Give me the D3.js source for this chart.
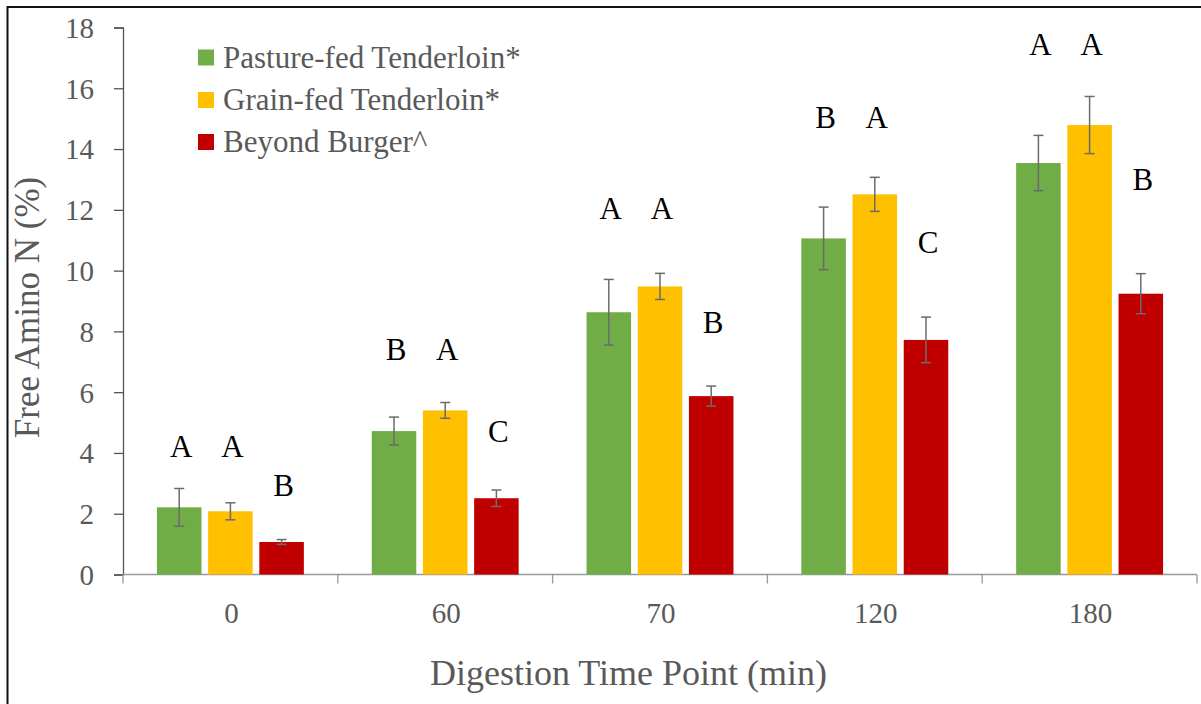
<!DOCTYPE html>
<html>
<head>
<meta charset="utf-8">
<script src="https://cdn.jsdelivr.net/npm/d3@7"></script>
</head>
<body style="margin:0">
<svg id="chart" width="1201" height="704"></svg>
<script>
// ---- data ----
const categories = ["0", "60", "70", "120", "180"];
const seriesNames = ["Pasture-fed Tenderloin*", "Grain-fed Tenderloin*", "Beyond Burger^"];
const pastureValues = [2.21, 4.72, 8.63, 11.06, 13.54];
const grainValues   = [2.08, 5.40, 9.48, 12.51, 14.79];
const beyondValues  = [1.07, 2.51, 5.87, 7.72, 9.24];
const pastureErr = [0.62, 0.46, 1.08, 1.03, 0.91];
const grainErr   = [0.28, 0.26, 0.43, 0.56, 0.94];
const beyondErr  = [0.08, 0.27, 0.33, 0.75, 0.66];
const pastureLetters = ["A", "B", "A", "B", "A"];
const grainLetters   = ["A", "A", "A", "A", "A"];
const beyondLetters  = ["B", "C", "B", "C", "B"];
// letter label heights, in axis units
const pastureLetterY = [4.20, 7.40, 12.03, 15.02, 17.42];
const grainLetterY   = [4.20, 7.40, 12.03, 15.02, 17.42];
const beyondLetterY  = [2.91, 4.69, 8.28, 10.91, 12.99];
const yTicks = [0, 2, 4, 6, 8, 10, 12, 14, 16, 18];
const colors = ["#70AD47", "#FFC000", "#C00000"];

const FONT = '"Liberation Serif"';
const GRAY = "#595959";

const series = [
  { name: seriesNames[0], values: pastureValues, err: pastureErr, letters: pastureLetters, ly: pastureLetterY, color: colors[0] },
  { name: seriesNames[1], values: grainValues, err: grainErr, letters: grainLetters, ly: grainLetterY, color: colors[1] },
  { name: seriesNames[2], values: beyondValues, err: beyondErr, letters: beyondLetters, ly: beyondLetterY, color: colors[2] }
];

const svg = d3.select("#chart").attr("font-family", FONT);

// frame
svg.append("rect").attr("x", 7.5).attr("y", 7).attr("width", 1200).attr("height", 710)
  .attr("fill", "none").attr("stroke", "#111").attr("stroke-width", 2);

const plot = { left: 123, right: 1197, top: 27.5, bottom: 574.5 };

const x = d3.scaleBand().domain(categories).range([plot.left, plot.right]).paddingInner(0).paddingOuter(0);
const bw = x.bandwidth();
const xi = d3.scaleBand().domain(seriesNames).range([bw * 0.158, bw * 0.842]).paddingInner(0.13).paddingOuter(0);
const y = d3.scaleLinear().domain([0, 18]).range([plot.bottom, plot.top]);

// y axis
const yAxis = d3.axisLeft(y).tickValues(yTicks).tickSize(9).tickPadding(20).tickFormat(d3.format("d"));
const gy = svg.append("g").attr("transform", `translate(${plot.left},0)`).call(yAxis);
gy.attr("font-family", FONT).attr("font-size", 29);
gy.select(".domain").attr("stroke", "#555").attr("stroke-width", 1.3);
gy.selectAll(".tick line").attr("stroke", "#555").attr("stroke-width", 1.3);
gy.selectAll(".tick text").attr("fill", GRAY).attr("dy", "0.34em")
  .attr("font-family", FONT).attr("font-size", 29);

// x axis: ticks at category boundaries
const gx = svg.append("g").attr("transform", `translate(0,${plot.bottom})`);
gx.append("line").attr("x1", plot.left).attr("x2", plot.right).attr("y1", 0).attr("y2", 0)
  .attr("stroke", "#999").attr("stroke-width", 1.3);
const boundaries = categories.map(c => x(c)).concat([x(categories[categories.length - 1]) + bw]);
gx.selectAll("line.tk").data(boundaries).join("line").attr("class", "tk")
  .attr("x1", d => d).attr("x2", d => d).attr("y1", 0).attr("y2", 9)
  .attr("stroke", "#999").attr("stroke-width", 1.3);
gx.selectAll("text.lbl").data(categories).join("text").attr("class", "lbl")
  .attr("x", d => x(d) + bw / 2 + 1).attr("y", 48.5)
  .attr("text-anchor", "middle").attr("fill", GRAY)
  .attr("font-family", FONT).attr("font-size", 29)
  .text(d => d);

// bars
const groups = svg.append("g");
series.forEach(s => {
  const g = groups.append("g");
  g.selectAll("rect").data(categories).join("rect")
    .attr("x", (c) => x(c) + xi(s.name))
    .attr("width", xi.bandwidth())
    .attr("y", (c, i) => y(s.values[i]))
    .attr("height", (c, i) => y(0) - y(s.values[i]))
    .attr("fill", s.color);
  const cx = c => x(c) + xi(s.name) + xi.bandwidth() / 2;
  g.selectAll("line.eb").data(categories).join("line").attr("class", "eb")
    .attr("x1", cx).attr("x2", cx)
    .attr("y1", (c, i) => y(s.values[i] + s.err[i]))
    .attr("y2", (c, i) => y(s.values[i] - s.err[i]))
    .attr("stroke", "#6b6b6b").attr("stroke-width", 1.5);
  [1, -1].forEach(sign => {
    const cls = sign > 0 ? "capt" : "capb";
    g.selectAll("line." + cls).data(categories).join("line").attr("class", cls)
      .attr("x1", c => cx(c) - 5).attr("x2", c => cx(c) + 5)
      .attr("y1", (c, i) => y(s.values[i] + sign * s.err[i]))
      .attr("y2", (c, i) => y(s.values[i] + sign * s.err[i]))
      .attr("stroke", "#6b6b6b").attr("stroke-width", 1.5);
  });
  g.selectAll("text.sig").data(categories).join("text").attr("class", "sig")
    .attr("x", c => cx(c) + 2)
    .attr("y", (c, i) => y(s.ly[i]))
    .attr("dy", "0.33em")
    .attr("text-anchor", "middle").attr("fill", "#000")
    .attr("font-family", FONT).attr("font-size", 31)
    .text((c, i) => s.letters[i]);
});

// legend
const legend = svg.append("g").attr("transform", "translate(198,0)");
const legendY = [57.5, 100, 142];
series.forEach((s, i) => {
  legend.append("rect").attr("x", 0).attr("y", legendY[i] - 8).attr("width", 16).attr("height", 16).attr("fill", s.color);
  legend.append("text").attr("x", 25).attr("y", legendY[i]).attr("dy", "0.33em")
    .attr("fill", GRAY).attr("font-family", FONT).attr("font-size", 31).text(s.name);
});

// axis titles
svg.append("text").attr("transform", `translate(38.5,307.5) rotate(-90)`)
  .attr("text-anchor", "middle").attr("fill", GRAY).attr("font-family", FONT).attr("font-size", 35)
  .text("Free Amino N (%)");
svg.append("text").attr("x", 628.5).attr("y", 685)
  .attr("text-anchor", "middle").attr("fill", GRAY).attr("font-family", FONT).attr("font-size", 36)
  .text("Digestion Time Point (min)");
</script>
</body>
</html>
